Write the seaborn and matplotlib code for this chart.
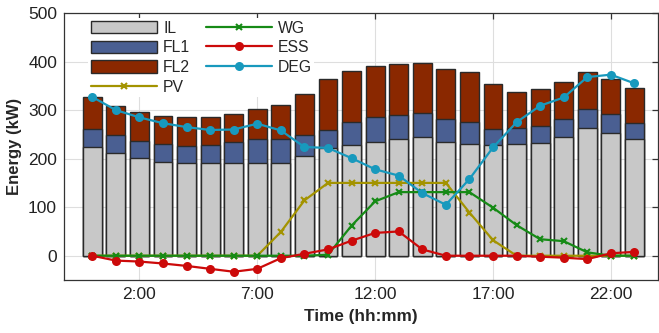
import numpy as np
import pandas as pd
import matplotlib
matplotlib.use("Agg")
import matplotlib.pyplot as plt
import seaborn as sns
from matplotlib.patches import Patch
from matplotlib.lines import Line2D

# ---------------- data ----------------
hours = list(range(24))
tick_pos = [2, 7, 12, 17, 22]
tick_labels = ["2:00", "7:00", "12:00", "17:00", "22:00"]

IL = [224, 212, 201, 194, 190, 190, 191, 192, 192, 205, 221, 228,
      234, 241, 244, 234, 230, 229, 231, 233, 244, 264, 253, 240]
FL1 = [38, 36, 36, 37, 37, 39, 43, 48, 49, 43, 39, 47,
       51, 49, 49, 48, 45, 33, 33, 35, 38, 38, 38, 33]
FL2 = [64, 60, 59, 57, 58, 57, 58, 63, 69, 86, 104, 105,
       105, 104, 103, 103, 103, 91, 73, 75, 76, 76, 74, 72]
PV = [0, 0, 0, 0, 0, 0, 0, 0, 49, 114, 150, 150,
      150, 150, 150, 150, 89, 32, 0, 0, 0, 0, 0, 0]
WG = [0, 0, 0, 0, 0, 0, 0, 0, 0, 0, 2, 62,
      112, 131, 131, 131, 131, 99, 63, 34, 30, 7, 0, 0]
ESS = [0, -10, -12, -16, -21, -27, -33, -27, -5, 4, 13, 31,
       47, 50, 13, 0, 0, 0, 0, -2, -4, -7, 5, 8]
DEG = [327, 300, 285, 273, 265, 259, 260, 272, 258, 224, 222, 201,
       178, 165, 129, 105, 158, 223, 275, 309, 326, 368, 373, 355]

# ---------------- style ----------------
sns.set_style("white")
plt.rcParams["font.family"] = ["Liberation Sans", "DejaVu Sans"]

c_IL = "#c8c8c8"
c_FL1 = "#4a5f92"
c_FL2 = "#8a2800"
c_PV = "#a39300"
c_WG = "#168a16"
c_ESS = "#cc0a0a"
c_DEG = "#1899bd"
edge = "#2a2a2a"

df = pd.DataFrame({"hour": hours, "IL": IL, "FL1": FL1, "FL2": FL2,
                   "PV": PV, "WG": WG, "ESS": ESS, "DEG": DEG})
df["s1"] = df["IL"] + df["FL1"]
df["s2"] = df["s1"] + df["FL2"]

fig = plt.figure(figsize=(6.59, 3.33), dpi=100)
ax = fig.add_axes([64 / 659, 1 - 280 / 333, (658 - 64) / 659, (280 - 13) / 333])

bar_kw = dict(order=hours, width=0.8, edgecolor=edge, linewidth=1.0,
              saturation=1, ax=ax, errorbar=None)
sns.barplot(data=df, x="hour", y="s2", color=c_FL2, **bar_kw)
sns.barplot(data=df, x="hour", y="s1", color=c_FL1, **bar_kw)
sns.barplot(data=df, x="hour", y="IL", color=c_IL, **bar_kw)

line_kw = dict(linewidth=1.6, ax=ax, legend=False)
sns.lineplot(data=df, x="hour", y="PV", color=c_PV, marker="x",
             markersize=5, markeredgewidth=1.5, markeredgecolor=c_PV, **line_kw)
sns.lineplot(data=df, x="hour", y="WG", color=c_WG, marker="x",
             markersize=5, markeredgewidth=1.5, markeredgecolor=c_WG, **line_kw)
sns.lineplot(data=df, x="hour", y="ESS", color=c_ESS, marker="o",
             markersize=6.5, markeredgewidth=0, **line_kw)
sns.lineplot(data=df, x="hour", y="DEG", color=c_DEG, marker="o",
             markersize=6.5, markeredgewidth=0, **line_kw)

ax.set_axisbelow(True)
ax.grid(True, axis="both", color="#dedede", linewidth=0.8)
ax.set_xlim(-1.2, 24.0)
ax.set_ylim(-50, 500)
ax.set_xticks(tick_pos)
ax.set_xticklabels(tick_labels)
ax.set_yticks([0, 100, 200, 300, 400, 500])
ax.tick_params(direction="in", top=True, right=True, length=4, width=0.9,
               color="#333333", labelsize=12.5, labelcolor="#222222", pad=5)
for s in ax.spines.values():
    s.set_visible(True)
    s.set_color("#333333")
    s.set_linewidth(0.9)
    s.set_zorder(6)

ax.set_xlabel("Time (hh:mm)", fontsize=12.3, fontweight="bold", labelpad=5)
ax.set_ylabel("Energy (kW)", fontsize=12, fontweight="bold", labelpad=4)

handles = [
    Patch(facecolor=c_IL, edgecolor=edge, linewidth=1.0, label="IL"),
    Patch(facecolor=c_FL1, edgecolor=edge, linewidth=1.0, label="FL1"),
    Patch(facecolor=c_FL2, edgecolor=edge, linewidth=1.0, label="FL2"),
    Line2D([], [], color=c_PV, marker="x", markersize=5, markeredgewidth=1.5, linewidth=1.6, label="PV"),
    Line2D([], [], color=c_WG, marker="x", markersize=5, markeredgewidth=1.5, linewidth=1.6, label="WG"),
    Line2D([], [], color=c_ESS, marker="o", markersize=6.5, markeredgewidth=0, linewidth=1.6, label="ESS"),
    Line2D([], [], color=c_DEG, marker="o", markersize=6.5, markeredgewidth=0, linewidth=1.6, label="DEG"),
]
leg = ax.legend(handles=handles, ncol=2, loc="upper left",
                bbox_to_anchor=(0.028, 1.01), fontsize=11.3,
                handlelength=4.2, handleheight=0.85, handletextpad=0.4,
                labelspacing=0.3, columnspacing=1.0, borderpad=0.15,
                numpoints=1, frameon=True, fancybox=False)
leg.get_frame().set_facecolor("white")
leg.get_frame().set_edgecolor("none")
leg.get_frame().set_alpha(1)
leg.set_zorder(0.9)

fig.savefig("out.png", dpi=100)
